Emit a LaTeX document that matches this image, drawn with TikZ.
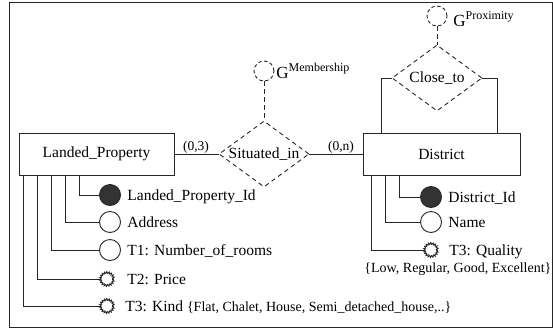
\documentclass[tikz,border=0pt]{standalone}
\usepackage{fontspec}
\setmainfont{Liberation Serif}
\usetikzlibrary{shapes.geometric,decorations.pathmorphing}
\begin{document}
\begin{tikzpicture}[x=1pt,y=-1pt,
  line width=0.9pt, draw=black!85,
  every node/.style={font=\fontsize{15.5}{18}\selectfont},
  entity/.style={draw=black!85, rectangle, minimum width=155pt, minimum height=42pt, inner sep=0pt},
  rel/.style={draw=black!85, dash pattern=on 4.5pt off 3.5pt, diamond, aspect=1.33, minimum width=90pt, minimum height=66pt, inner sep=0pt},
  gcirc/.style={draw=black!85, dash pattern=on 3.5pt off 2.5pt, circle, minimum size=20pt, inner sep=0pt},
  keyattr/.style={draw=black!85, circle, fill=black!80, minimum size=21pt, inner sep=0pt},
  attr/.style={draw=black!85, circle, fill=white, minimum size=21pt, inner sep=0pt},
  tattr/.style={draw=black!85, circle, minimum size=13pt, inner sep=0pt, decorate, decoration={zigzag, segment length=2.2pt, amplitude=0.9pt}},
  lbl/.style={anchor=base west, inner sep=0pt},
  card/.style={anchor=base, inner sep=0pt, font=\fontsize{13.5}{15}\selectfont},
  small/.style={font=\fontsize{14}{16}\selectfont},
  link/.style={draw=black!85, line width=0.9pt}
]
\useasboundingbox (0,0) rectangle (553,330);
\draw[line width=0.8pt, black!85] (9,2) rectangle (552,327);

% entities and relationships
\node[entity] (lp) at (96.5,154) {Landed\_Property};
\node[entity, minimum width=157pt] (dist) at (441.5,154) {District};
\node[rel] (sit) at (264,154) {Situated\_in};
\node[rel] (ct) at (437,78) {Close\_to};
\node[gcirc] (gm) at (264,71) {};
\node[gcirc] (gp) at (437,16) {};
\node[lbl] (gml) at (276,78) {\fontsize{17}{18}\selectfont G\raisebox{7pt}{\fontsize{12}{13}\selectfont Membership}};
\node[lbl] (gpl) at (453,26) {\fontsize{17}{18}\selectfont G\raisebox{7pt}{\fontsize{12}{13}\selectfont Proximity}};
\draw[link, dash pattern=on 4.5pt off 3.5pt] (gm) -- (sit.north);
\draw[link, dash pattern=on 4.5pt off 3.5pt] (gp) -- (ct.north);

\draw[link] (lp.east) -- (sit.west);
\draw[link] (sit.east) -- (dist.west);
\node[card] (c1) at (196,150) {(0,3)};
\node[card] (c2) at (341,150) {(0,n)};

\draw[link] (ct.west) -| ([xshift=19pt]dist.north west);
\draw[link] (ct.east) -| ([xshift=-23pt]dist.north east);

% Landed_Property attributes
\node[keyattr] (lpid) at (110,195) {};
\node[attr] (addr) at (110,222) {};
\node[attr] (nrooms) at (110,250) {};
\node[tattr] (price) at (107,279) {};
\node[tattr] (kind) at (107,306) {};
\draw[link] ([xshift=61pt]lp.south west) |- (lpid.west);
\draw[link] ([xshift=47pt]lp.south west) |- (addr.west);
\draw[link] ([xshift=33pt]lp.south west) |- (nrooms.west);
\draw[link] ([xshift=19pt]lp.south west) |- (price.west);
\draw[link] ([xshift=5pt]lp.south west) |- (kind.west);
\node[lbl] (lpidl) at (127,200) {Landed\_Property\_Id};
\node[lbl] (addrl) at (127,227) {Address};
\node[lbl] (nroomsl) at (127,255) {T1: Number\_of\_rooms};
\node[lbl] (pricel) at (127,284) {T2: Price};
\node[lbl] (kindl) at (125,311) {T3: Kind {\fontsize{14}{16}\selectfont\{Flat, Chalet, House, Semi\_detached\_house,..\}}};

% District attributes
\node[keyattr] (did) at (431,197) {};
\node[attr] (dname) at (431,222) {};
\node[tattr] (qual) at (431,250) {};
\draw[link] ([xshift=37pt]dist.south west) |- (did.west);
\draw[link] ([xshift=23pt]dist.south west) |- (dname.west);
\draw[link] ([xshift=9pt]dist.south west) |- (qual.west);
\node[lbl] (didl) at (448,202) {District\_Id};
\node[lbl] (dnamel) at (448,227) {Name};
\node[lbl] (quall) at (449,255) {T3: Quality};
\node[lbl, small] (qvals) at (364,272) {\{Low, Regular, Good, Excellent\}};
\end{tikzpicture}
\end{document}
